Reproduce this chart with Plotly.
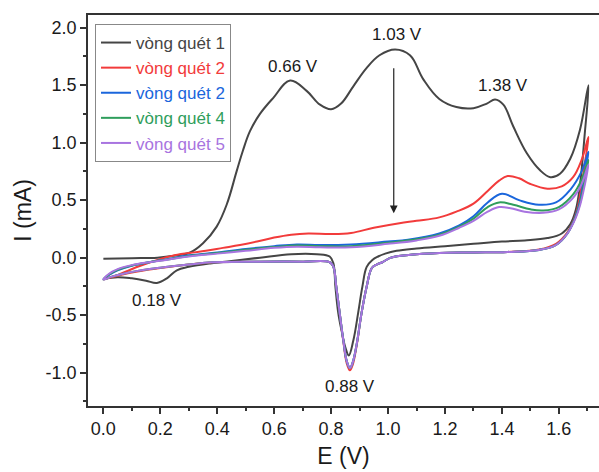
import plotly.graph_objects as go

# ---- data (E in V, I in mA) ----
c1_fwd_E = [0.00, 0.10, 0.19, 0.26, 0.305, 0.35, 0.398, 0.433, 0.468, 0.49, 0.515, 0.55, 0.597, 0.656,
            0.714, 0.761, 0.80, 0.835, 0.878, 0.925, 0.97, 1.025, 1.077, 1.124, 1.18, 1.24, 1.30, 1.347,
            1.376, 1.405, 1.44, 1.487, 1.534, 1.57, 1.604, 1.64, 1.674, 1.704]
c1_fwd_I = [-0.01, -0.005, 0.0, 0.02, 0.045, 0.125, 0.27, 0.46, 0.75, 0.93, 1.10, 1.25, 1.39, 1.54,
            1.45, 1.33, 1.29, 1.34, 1.49, 1.65, 1.76, 1.81, 1.76, 1.55, 1.38, 1.31, 1.30, 1.34,
            1.375, 1.33, 1.14, 0.91, 0.76, 0.70, 0.73, 0.86, 1.11, 1.50]
c1_rev_E = [1.69, 1.675, 1.66, 1.64, 1.61, 1.56, 1.48, 1.40, 1.30, 1.20, 1.10, 1.03, 0.99, 0.965,
            0.945, 0.925, 0.91, 0.895, 0.878, 0.862, 0.85, 0.838, 0.825, 0.815, 0.808, 0.795, 0.75,
            0.66, 0.55, 0.45, 0.375, 0.30, 0.258, 0.223, 0.188, 0.15, 0.10, 0.05, 0.0]
c1_rev_I = [1.05, 0.65, 0.42, 0.29, 0.21, 0.17, 0.15, 0.14, 0.12, 0.10, 0.08, 0.06, 0.035, 0.01,
            -0.02, -0.08, -0.25, -0.48, -0.72, -0.85, -0.78, -0.65, -0.48, -0.25, -0.05, 0.01, 0.03,
            0.03, 0.0, -0.03, -0.05, -0.08, -0.11, -0.18, -0.22, -0.20, -0.18, -0.17, -0.185]

c2_fwd_E = [0.00, 0.04, 0.08, 0.13, 0.19, 0.24, 0.30, 0.36, 0.42, 0.48, 0.54, 0.60, 0.66, 0.72, 0.80,
            0.87, 0.95, 1.04, 1.10, 1.18, 1.24, 1.30, 1.35, 1.39, 1.42, 1.46, 1.50, 1.56, 1.61, 1.65,
            1.68, 1.704]
c2_fwd_I = [-0.19, -0.16, -0.12, -0.07, -0.02, 0.015, 0.04, 0.06, 0.085, 0.11, 0.14, 0.175, 0.20, 0.21,
            0.205, 0.215, 0.26, 0.30, 0.32, 0.35, 0.40, 0.47, 0.58, 0.67, 0.71, 0.69, 0.64, 0.60, 0.62,
            0.70, 0.85, 1.05]
c2_rev_E = [1.69, 1.675, 1.66, 1.63, 1.59, 1.53, 1.42, 1.30, 1.18, 1.08, 1.01, 0.98, 0.96, 0.943,
            0.925, 0.907, 0.89, 0.876, 0.866, 0.855, 0.843, 0.83, 0.818, 0.808, 0.795, 0.70, 0.55,
            0.40, 0.30, 0.20, 0.12, 0.06, 0.02, 0.0]
c2_rev_I = [0.80, 0.55, 0.38, 0.22, 0.12, 0.07, 0.05, 0.045, 0.04, 0.025, 0.0, -0.04, -0.06, -0.09,
            -0.25, -0.48, -0.76, -0.93, -0.98, -0.92, -0.73, -0.48, -0.25, -0.08, -0.04, -0.035, -0.035,
            -0.04, -0.06, -0.09, -0.12, -0.15, -0.175, -0.19]

c3_fwd_E = [0.00, 0.02, 0.05, 0.10, 0.16, 0.22, 0.30, 0.40, 0.50, 0.60, 0.68, 0.76, 0.87, 1.00, 1.07,
            1.18, 1.25, 1.30, 1.35, 1.40, 1.46, 1.53, 1.59, 1.64, 1.68, 1.704]
c3_fwd_I = [-0.19, -0.15, -0.11, -0.07, -0.04, -0.015, 0.02, 0.045, 0.075, 0.10, 0.115, 0.11, 0.115,
            0.14, 0.155, 0.21, 0.28, 0.36, 0.48, 0.555, 0.50, 0.46, 0.48, 0.59, 0.75, 0.92]
c3_rev_E = [1.69, 1.675, 1.66, 1.63, 1.59, 1.53, 1.42, 1.30, 1.18, 1.08, 1.01, 0.98, 0.96, 0.943,
            0.925, 0.907, 0.89, 0.876, 0.866, 0.855, 0.843, 0.83, 0.818, 0.808, 0.795, 0.70, 0.55, 0.38]
c3_rev_I = [0.72, 0.50, 0.37, 0.21, 0.11, 0.067, 0.05, 0.045, 0.04, 0.025, 0.0, -0.04, -0.06, -0.09,
            -0.25, -0.48, -0.75, -0.91, -0.96, -0.90, -0.72, -0.48, -0.25, -0.08, -0.04, -0.035, -0.035,
            -0.04]

c4_fwd_E = [0.00, 0.02, 0.05, 0.10, 0.16, 0.22, 0.30, 0.40, 0.50, 0.60, 0.68, 0.76, 0.87, 1.00, 1.10,
            1.18, 1.25, 1.30, 1.35, 1.39, 1.44, 1.50, 1.545, 1.60, 1.65, 1.68, 1.704]
c4_fwd_I = [-0.19, -0.145, -0.105, -0.068, -0.04, -0.018, 0.015, 0.04, 0.068, 0.092, 0.105, 0.10, 0.10,
            0.13, 0.16, 0.20, 0.27, 0.34, 0.44, 0.48, 0.46, 0.42, 0.41, 0.44, 0.55, 0.68, 0.85]
c4_rev_E = c3_rev_E[:] + [0.30, 0.19, 0.12, 0.07, 0.03, 0.0]
c4_rev_I = [0.66, 0.48, 0.36, 0.21, 0.11, 0.067, 0.05, 0.045, 0.04, 0.025, 0.0, -0.04, -0.06, -0.09,
            -0.25, -0.48, -0.75, -0.91, -0.96, -0.90, -0.72, -0.48, -0.25, -0.08, -0.04, -0.035, -0.035,
            -0.04, -0.06, -0.09, -0.115, -0.14, -0.165, -0.19]

c5_fwd_E = [0.00, 0.02, 0.05, 0.10, 0.16, 0.22, 0.30, 0.40, 0.50, 0.60, 0.68, 0.76, 0.87, 1.00, 1.10,
            1.18, 1.25, 1.30, 1.35, 1.39, 1.43, 1.48, 1.545, 1.60, 1.65, 1.68, 1.704]
c5_fwd_I = [-0.19, -0.14, -0.10, -0.065, -0.04, -0.02, 0.01, 0.035, 0.06, 0.085, 0.095, 0.09, 0.09,
            0.12, 0.15, 0.19, 0.26, 0.32, 0.40, 0.44, 0.43, 0.40, 0.39, 0.42, 0.52, 0.64, 0.81]
c5_rev_E = c4_rev_E[:]
c5_rev_I = [0.62, 0.46, 0.35, 0.21, 0.11, 0.067, 0.05, 0.045, 0.04, 0.025, 0.0, -0.04, -0.06, -0.09,
            -0.25, -0.48, -0.75, -0.91, -0.96, -0.90, -0.72, -0.48, -0.25, -0.08, -0.04, -0.035, -0.035,
            -0.04, -0.06, -0.09, -0.115, -0.14, -0.165, -0.19]

series_names = ["vòng quét 1", "vòng quét 2", "vòng quét 2", "vòng quét 4", "vòng quét 5"]
series_colors = ["#454545", "#f23b3b", "#1a66dc", "#2f9e5c", "#a874e0"]
series_E = [c1_fwd_E + c1_rev_E, c2_fwd_E + c2_rev_E, c3_fwd_E + c3_rev_E,
            c4_fwd_E + c4_rev_E, c5_fwd_E + c5_rev_E]
series_I = [c1_fwd_I + c1_rev_I, c2_fwd_I + c2_rev_I, c3_fwd_I + c3_rev_I,
            c4_fwd_I + c4_rev_I, c5_fwd_I + c5_rev_I]

peak_labels = ["0.66 V", "1.03 V", "1.38 V", "0.18 V", "0.88 V"]
peak_label_E = [0.667, 1.03, 1.405, 0.187, 0.866]
peak_label_I = [1.66, 1.94, 1.50, -0.37, -1.12]

FONT = "Liberation Sans, Arial, sans-serif"

fig = go.Figure()
for name, col, E, I in zip(series_names, series_colors, series_E, series_I):
    fig.add_trace(go.Scatter(
        x=E, y=I, mode="lines",
        name=f"<span style='color:{col}'>{name}</span>",
        line=dict(color=col, width=2, shape="spline", smoothing=1.1),
    ))

for t, x, y in zip(peak_labels, peak_label_E, peak_label_I):
    fig.add_annotation(x=x, y=y, text=t, showarrow=False,
                       font=dict(family=FONT, size=17, color="#1a1a1a"))

fig.add_annotation(x=1.02, y=0.386, ax=1.02, ay=1.66, axref="x", ayref="y",
                   xref="x", yref="y", text="", showarrow=True,
                   arrowhead=2, arrowsize=1.3, arrowwidth=1.2, arrowcolor="#222222")

fig.update_layout(
    width=599, height=472,
    margin=dict(l=88, r=0, t=15, b=66),
    paper_bgcolor="white", plot_bgcolor="white",
    font=dict(family=FONT, size=18, color="#1a1a1a"),
    showlegend=True,
    legend=dict(x=0.0137, y=0.977, xanchor="left", yanchor="top",
                bgcolor="white", bordercolor="#888888", borderwidth=1,
                font=dict(family=FONT, size=17), tracegroupgap=0),
)
fig.update_xaxes(
    range=[-0.054, 1.741], tickmode="array",
    tickvals=[0, 0.2, 0.4, 0.6, 0.8, 1.0, 1.2, 1.4, 1.6],
    ticktext=["0.0", "0.2", "0.4", "0.6", "0.8", "1.0", "1.2", "1.4", "1.6"],
    ticks="outside", ticklen=6, tickwidth=1.5, tickcolor="#333333",
    minor=dict(tickvals=[0.1, 0.3, 0.5, 0.7, 0.9, 1.1, 1.3, 1.5, 1.7], ticks="outside",
               ticklen=3, tickwidth=1.5, tickcolor="#333333"),
    showline=True, linewidth=1.5, linecolor="#333333", mirror=True,
    showgrid=False, zeroline=False,
    title=dict(text="E (V)", font=dict(size=23), standoff=10),
    tickfont=dict(size=18),
)
fig.update_yaxes(
    range=[-1.29, 2.11], tickmode="array",
    tickvals=[-1.0, -0.5, 0.0, 0.5, 1.0, 1.5, 2.0],
    ticktext=["-1.0", "-0.5", "0.0", "0.5", "1.0", "1.5", "2.0"],
    ticks="outside", ticklen=6, tickwidth=1.5, tickcolor="#333333",
    minor=dict(tickvals=[-1.25, -0.75, -0.25, 0.25, 0.75, 1.25, 1.75], ticks="outside",
               ticklen=3, tickwidth=1.5, tickcolor="#333333"),
    showline=True, linewidth=1.5, linecolor="#333333",
    showgrid=False, zeroline=False,
    title=dict(text="I (mA)", font=dict(size=23), standoff=8),
    tickfont=dict(size=18),
)

fig.write_html("out.html")
